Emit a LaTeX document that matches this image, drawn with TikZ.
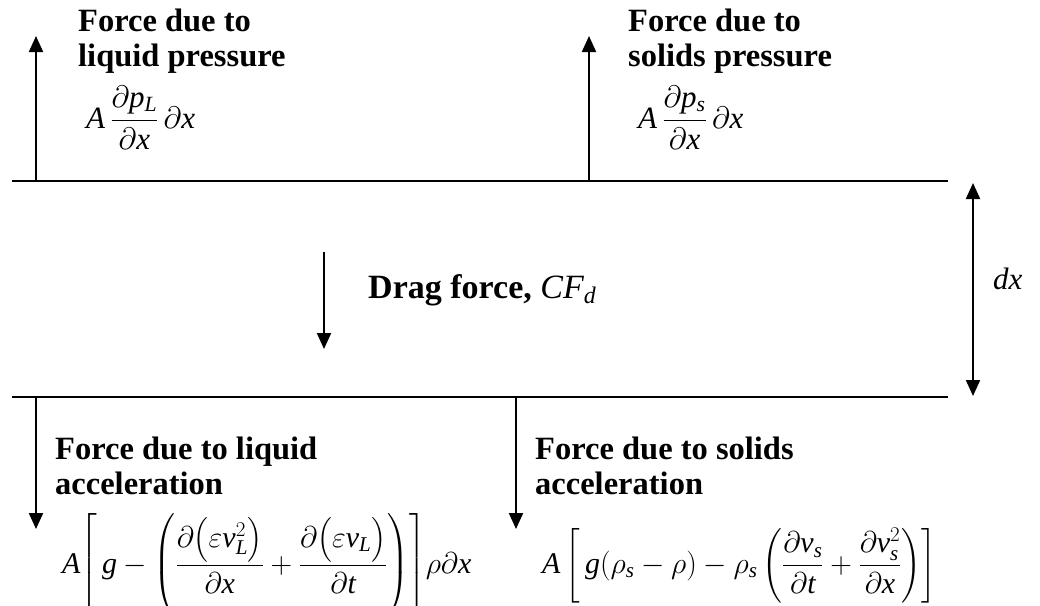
\documentclass[tikz,border=0pt]{standalone}
\usepackage{fix-cm}
\usepackage{amsmath}
\usepackage{fontspec}
\setmainfont{Liberation Serif}
\usetikzlibrary{arrows.meta}
\begin{document}
\begin{tikzpicture}[x=1pt,y=-1pt,
  rule/.style={line width=2pt},
  forcearrow/.style={line width=2pt,-{Triangle[width=14pt,length=16pt]}},
  dimarrow/.style={line width=2pt,{Triangle[width=14pt,length=16pt]}-{Triangle[width=14pt,length=16pt]}},
  lbl/.style={font=\fontsize{32.5}{35}\selectfont\bfseries, align=left, anchor=north west, inner sep=0pt},
  eq/.style={font=\fontsize{31}{36}\selectfont, anchor=base west, inner sep=0pt},
  eqlow/.style={font=\fontsize{30}{36}\selectfont, anchor=base west, inner sep=0pt},
  dragtxt/.style={font=\fontsize{34}{36}\selectfont, anchor=base west, inner sep=0pt}]
\useasboundingbox (0,0) rectangle (1040,605);
% element boundaries
\coordinate (topL) at (12,181);
\coordinate (topR) at (948,181);
\coordinate (botL) at (12,397);
\coordinate (botR) at (948,397);
\draw[rule] (topL) -- (topR);
\draw[rule] (botL) -- (botR);
% arrow end points
\coordinate (a1s) at (36,182);  \coordinate (a1e) at (36,36);
\coordinate (a2s) at (589,182); \coordinate (a2e) at (589,36);
\coordinate (a3s) at (324,252); \coordinate (a3e) at (324,349);
\coordinate (a4s) at (36,396);  \coordinate (a4e) at (36,529);
\coordinate (a5s) at (516,396); \coordinate (a5e) at (516,529);
\coordinate (d1) at (973,183);  \coordinate (d2) at (973,396);
\draw[forcearrow] (a1s) -- (a1e);
\draw[forcearrow] (a2s) -- (a2e);
\draw[forcearrow] (a3s) -- (a3e);
\draw[forcearrow] (a4s) -- (a4e);
\draw[forcearrow] (a5s) -- (a5e);
\draw[dimarrow] (d1) -- (d2);
% labels
\node[lbl] (liqp) at (78,9) {Force due to\\liquid pressure};
\node[eq] (liqpeq) at (86,128) {$\mathit{A}\,\dfrac{\partial \mathit{p}_{\mathit{L}}}{\partial \mathit{x}}\,\partial \mathit{x}$};
\node[lbl] (solp) at (628,9) {Force due to\\solids pressure};
\node[eq] (solpeq) at (638,128) {$\mathit{A}\,\dfrac{\partial \mathit{p}_{\mathit{s}}}{\partial \mathit{x}}\,\partial \mathit{x}$};
\node[dragtxt] (drag) at (368,298) {\textbf{Drag force,} $\mathit{CF}_{\mathit{d}}$};
\node[eq] (dx) at (993,289) {$\mathit{dx}$};
\node[lbl] (liqa) at (55,437) {Force due to liquid\\acceleration};
\node[eqlow] (liqaeq) at (62,573) {$\mathit{A}{\left[\,\mathit{g}-{\left(\dfrac{\partial\bigl(\varepsilon \mathit{v}_{\mathit{L}}^{2}\bigr)}{\partial \mathit{x}}+\dfrac{\partial\bigl(\varepsilon \mathit{v}_{\mathit{L}}\bigr)}{\partial \mathit{t}}\right)}\right]}\rho\partial \mathit{x}$};
\node[lbl] (sola) at (535,437) {Force due to solids\\acceleration};
\node[eqlow] (solaeq) at (542,573) {$\mathit{A}\left[\,\mathit{g}(\rho_{\mathit{s}}-\rho)-\rho_{\mathit{s}}\left(\dfrac{\partial \mathit{v}_{\mathit{s}}}{\partial \mathit{t}}+\dfrac{\partial \mathit{v}_{\mathit{s}}^{2}}{\partial \mathit{x}}\right)\right]$};
\end{tikzpicture}
\end{document}
